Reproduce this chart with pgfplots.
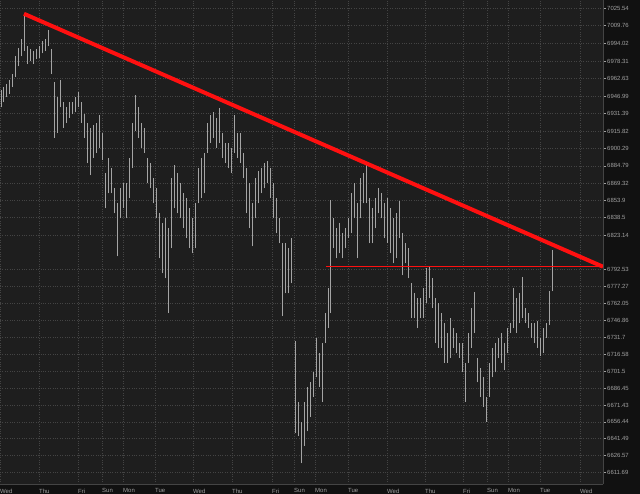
\documentclass[border=0pt]{standalone}
\usepackage{pgfplots}
\pgfplotsset{compat=1.18}
\usepackage{pgfplotstable}
\usepackage{fontspec}
\setmainfont{Liberation Sans}
\definecolor{bgout}{HTML}{111111}
\definecolor{bgin}{HTML}{1E1E1E}
\definecolor{gridc}{HTML}{444444}
\definecolor{barc}{HTML}{A4A4A4}
\definecolor{labc}{HTML}{A0A0A0}
\definecolor{tl}{HTML}{FF1010}
\pgfplotstableread{
x hi lo
1 6952 6937
3 6955 6941.5
6 6958 6946
9 6961.5 6949
12 6967 6955
15 6982.5 6964
18 6990 6973.4
21 6998 6982.5
24 7020.7 6987
27 6991.6 6976
30 6989 6978
33 6987 6976
36 6989 6980
39 6991.6 6980.6
42 6996 6985
45 6998 6987
48 7006 6991.6
51 6989 6967
54 6959.7 6909.8
57 6946 6914.3
60 6961.5 6937
63 6941.5 6918.8
66 6937 6923.3
69 6941.5 6927.8
72 6941.5 6930.6
75 6946 6932.4
78 6950.6 6937
81 6941.5 6923.3
84 6930.6 6909.8
87 6923.3 6887.2
90 6918.8 6876.4
93 6921.5 6891.8
96 6923.3 6896.3
99 6929.7 6900.8
102 6914.3 6890
105 6878.2 6846.8
108 6891.8 6860.3
111 6882.7 6860.3
114 6864.7 6842.4
117 6851.3 6804
120 6864.7 6837.9
123 6869.2 6846.8
126 6869.2 6837.9
129 6891.8 6855.8
132 6923.3 6882.7
135 6947.9 6916.1
138 6937 6909.8
141 6923.3 6900.8
144 6918.8 6896.3
147 6891.8 6869.2
150 6887.2 6864.7
153 6873.7 6851.3
156 6864.7 6837.9
159 6842.4 6802.2
162 6833.4 6788.9
165 6837.9 6784.4
168 6829 6753.4
171 6873.7 6811.1
174 6885.4 6846.8
177 6878.2 6842.4
180 6869.2 6837.9
183 6860.3 6829
186 6855.8 6820
189 6846.8 6811.1
192 6837.9 6806.6
195 6851.3 6811.1
198 6882.7 6851.3
201 6891.8 6855.8
204 6896.3 6860.3
207 6923.3 6896.3
210 6929.7 6905.3
213 6932.4 6909.8
216 6927.8 6900.8
219 6936 6905.3
222 6914.3 6891.8
225 6905.3 6887.2
228 6905.3 6882.7
231 6900.8 6878.2
234 6929.7 6896.3
237 6914.3 6891.8
240 6914.3 6887.2
243 6896.3 6873.7
246 6882.7 6842.4
249 6869.2 6829
252 6851.3 6812.9
255 6873.7 6837.9
258 6880 6851.3
261 6882.7 6860.3
264 6887.2 6864.7
267 6889 6869.2
270 6882.7 6855.8
273 6869.2 6837.9
276 6855.8 6824.5
279 6837.9 6815.6
282 6815.6 6750.8
285 6815.6 6771.1
288 6811.1 6771.1
291 6820 6780
295 6728.7 6646.3
298 6674.2 6643.7
301 6656.7 6619.4
304 6674.2 6635
307 6687.3 6648
310 6691.7 6661
313 6700.5 6678.5
316 6731.3 6696.1
319 6718.1 6687.3
322 6726.9 6674.2
325 6753.4 6726.9
328 6775.6 6740.1
330 6854 6753.4
333 6837.9 6811.1
336 6829 6802.2
339 6833.4 6806.6
342 6824.5 6802.2
345 6829 6811.1
348 6837.9 6820
351 6860.3 6824.5
354 6869.2 6837.9
357 6851.3 6802.2
360 6873.7 6837.9
363 6878.2 6851.3
366 6886.3 6851.3
369 6855.8 6815.6
372 6846.8 6815.6
375 6855.8 6829
378 6864.7 6842.4
381 6860.3 6837.9
384 6851.3 6820
387 6855.8 6815.6
390 6846.8 6806.6
393 6837.9 6797.8
396 6842.4 6802.2
399 6853 6820
402 6824.5 6787.1
405 6815.6 6797.8
408 6811.1 6784.4
411 6780 6749
414 6771.1 6749
417 6766.6 6740.1
420 6766.6 6749
423 6775.6 6749
426 6793.3 6762.2
429 6795.1 6766.6
432 6784.4 6757.8
435 6766.6 6726.9
438 6762.2 6722.5
441 6753.4 6722.5
444 6744.5 6709.3
447 6735.7 6709.3
450 6749 6713.7
453 6740.1 6722.5
456 6735.7 6718.1
459 6726.9 6713.7
462 6726.9 6700.5
465 6709.3 6674.2
468 6735.7 6709.3
471 6757.8 6722.5
474 6772 6735.7
477 6713.7 6691.7
480 6704.9 6678.5
483 6696.1 6669.8
486 6678.5 6656.7
489 6709.3 6678.5
492 6722.5 6696.1
495 6726.9 6700.5
498 6731.3 6713.7
501 6735.7 6709.3
504 6726.9 6702.3
507 6740.1 6718.1
510 6744.5 6735.7
513 6775.6 6740.1
516 6766.6 6735.7
519 6771.1 6744.5
522 6785.3 6749
525 6757.8 6744.5
528 6753.4 6740.1
531 6744.5 6731.3
534 6744.5 6726.9
537 6746.3 6722.5
540 6731.3 6715.5
543 6740.1 6718.1
546 6744.5 6731.3
549 6772.9 6742.7
552 6809.3 6772.9
}\bars
\begin{document}
\begin{tikzpicture}
\fill[bgout] (0,0) rectangle (640bp,-494bp);
\useasboundingbox (0,0) rectangle (640bp,-494bp);
\begin{axis}[
  at={(0,0)}, anchor=north west,
  scale only axis, width=603bp, height=484bp,
  xmin=0, xmax=603,
  ymin=6601.0, ymax=7032.7,
  axis background/.style={fill=bgin},
  axis x line*=bottom, axis y line*=right,
  axis line style={draw=gridc, line width=0.8bp},
  xtick={0,39,78,102,123,155,193,232,272,294,315,348,387,425,463,487,508,540,580},
  xticklabels={Wed,Thu,Fri,Sun,Mon,Tue,Wed,Thu,Fri,Sun,Mon,Tue,Wed,Thu,Fri,Sun,Mon,Tue,Wed},
  xtick style={draw=none},
  xticklabel style={anchor=north west, inner sep=0pt, yshift=-1.5bp, font=\fontsize{6}{6.5}\selectfont, text=labc},
  ytick={7025.54,7009.76,6994.02,6978.31,6962.63,6946.99,6931.39,6915.82,6900.29,6884.79,6869.32,6853.9,6838.5,6823.14,6792.53,6777.27,6762.05,6746.86,6731.7,6716.58,6701.5,6686.45,6671.43,6656.44,6641.49,6626.57,6611.69},
  yticklabels={7025.54,7009.76,6994.02,6978.31,6962.63,6946.99,6931.39,6915.82,6900.29,6884.79,6869.32,6853.9,6838.5,6823.14,6792.53,6777.27,6762.05,6746.86,6731.7,6716.58,6701.5,6686.45,6671.43,6656.44,6641.49,6626.57,6611.69},
  yticklabel pos=right,
  yticklabel style={anchor=west, inner sep=0pt, xshift=1bp, font=\fontsize{6}{7}\selectfont, text=labc},
  ytick style={draw=labc, line width=0.5bp},
  major tick length=3bp,
  tick align=outside,
  grid=major,
  major grid style={draw=gridc, dotted, line width=0.6bp},
  clip=true,
]
\addplot[only marks, mark size=0pt, mark options={draw opacity=0, fill opacity=0},
  error bars/.cd, y dir=plus, y explicit, error mark=none,
  error bar style={draw=barc, line width=0.95bp}]
  table[x=x, y=lo, y error expr=\thisrow{hi}-\thisrow{lo}] {\bars};
\addplot[tl, line width=0.8bp] coordinates {(326,6795.2) (603,6795.2)};
\addplot[tl, line width=4bp] coordinates {(24,7020.4) (603,6794.8)};
\node[anchor=west, fill={rgb,255:red,200;green,200;blue,200}, text=black, inner sep=0.8bp, rounded corners=1bp, font=\fontsize{6}{7}\selectfont, xshift=3bp] at (axis cs:603,6804.5) {6804.5};
\end{axis}
\end{tikzpicture}
\end{document}
